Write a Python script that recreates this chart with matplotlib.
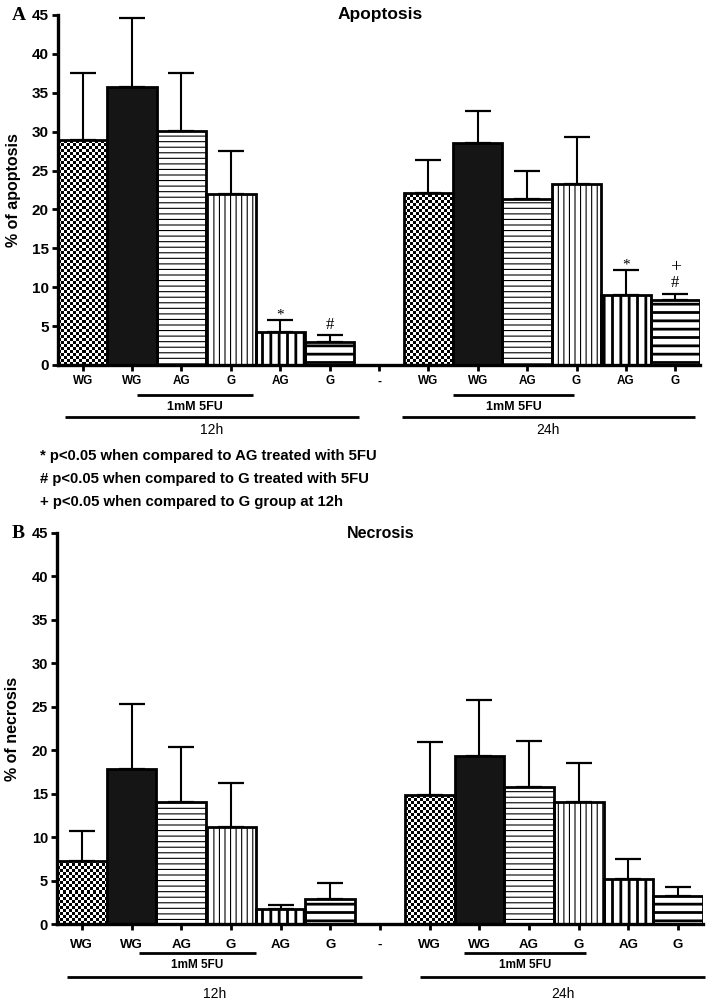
import numpy as np
import matplotlib
matplotlib.use('Agg')
import matplotlib.pyplot as plt
from matplotlib.transforms import blended_transform_factory

plt.rcParams['font.family'] = ['Liberation Sans', 'DejaVu Sans']

# ---------------- data ----------------
categories = ['WG', 'WG', 'AG', 'G', 'AG', 'G', '-', 'WG', 'WG', 'AG', 'G', 'AG', 'G']
patterns = ['checker', 'solid', 'hthin', 'vthin', 'vthick', 'hthick', None,
            'checker', 'solid', 'hthin', 'vthin', 'vthick', 'hthick']

apop_mean = [28.9, 35.8, 30.1, 22.0, 4.2, 3.0, np.nan, 22.1, 28.5, 21.4, 23.3, 9.0, 8.3]
apop_err = [8.7, 8.8, 7.4, 5.5, 1.6, 0.8, np.nan, 4.2, 4.1, 3.5, 6.0, 3.2, 0.8]

necr_mean = [7.3, 17.8, 14.0, 11.2, 1.7, 2.9, np.nan, 14.8, 19.3, 15.8, 14.0, 5.2, 3.2]
necr_err = [3.4, 7.5, 6.4, 5.0, 0.5, 1.8, np.nan, 6.1, 6.5, 5.3, 4.5, 2.3, 1.1]

# significance marks: (category index, symbols stacked bottom->top)
apop_sig = [(4, ['*']), (5, ['#']), (11, ['*']), (12, ['#', '+'])]

footnotes = ['* p<0.05 when compared to AG treated with 5FU',
             '# p<0.05 when compared to G treated with 5FU',
             '+ p<0.05 when compared to G group at 12h']

W, H = 714, 1007
fig = plt.figure(figsize=(W / 100, H / 100), dpi=100)


def px_axes(left, top, right, bottom):
    return fig.add_axes([left / W, 1 - bottom / H, (right - left) / W, (bottom - top) / H])


HATCH = {'hthin': '---', 'vthin': '|||', 'vthick': '||', 'hthick': '--'}
HLW = {'hthin': 0.8, 'vthin': 0.8, 'vthick': 2.0, 'hthick': 2.0}
SERIF = ['Liberation Serif', 'DejaVu Serif']


def draw_panel(ax, mean, err, ytick_fs, xtick_fs, xpad, groups, title, title_fs, ylabel,
               letter, sig=None):
    x = np.arange(len(categories))
    mean = np.asarray(mean, float)
    err = np.asarray(err, float)
    ax.set_xlim(-0.5, len(categories) - 0.5)
    ax.set_ylim(0, 45)
    valid = ~np.isnan(mean)
    xv, mv, ev = x[valid], mean[valid], err[valid]
    pats = [p for p, v in zip(patterns, valid) if v]

    ax.errorbar(xv, mv, yerr=[np.zeros_like(ev), ev], fmt='none', ecolor='black',
                elinewidth=1.5, capsize=9.5, capthick=1.6, zorder=1)

    bars = ax.bar(xv, mv, width=1.0, color='white', edgecolor='none', linewidth=0, zorder=2)
    for b, p in zip(bars, pats):
        if p == 'solid':
            b.set_facecolor('#151515')
        elif p in HATCH:
            b.set_hatch(HATCH[p])
            b.set_edgecolor('black')
            b.set_linewidth(0)
            if hasattr(b, 'set_hatch_linewidth'):
                b.set_hatch_linewidth(HLW[p])
        elif p == 'checker':
            fig.canvas.draw()
            x0, y0 = b.get_x(), b.get_y()
            x1, y1 = x0 + b.get_width(), y0 + b.get_height()
            (px0, py0), (px1, py1) = ax.transData.transform([(x0, y0), (x1, y1)])
            nx, ny = max(int(round(px1 - px0)), 1), max(int(round(py1 - py0)), 1)
            arr = ((np.arange(nx)[None, :] // 3) + (np.arange(ny)[:, None] // 3)) % 2
            im = ax.imshow(arr, cmap='gray', vmin=0, vmax=1, extent=(x0, x1, y0, y1),
                           origin='lower', aspect='auto', interpolation='nearest', zorder=2.5)
            im.set_clip_path(b)
    ax.bar(xv, mv, width=1.0, fill=False, edgecolor='black', linewidth=2.0, zorder=4)
    ax.set_xlim(-0.5, len(categories) - 0.5)
    ax.set_ylim(0, 45)

    for s in ['top', 'right']:
        ax.spines[s].set_visible(False)
    for s in ['left', 'bottom']:
        ax.spines[s].set_linewidth(2.4)
    ax.set_yticks(np.arange(0, 46, 5))
    ax.tick_params(axis='y', length=4.5, width=2.0, pad=2, labelsize=ytick_fs)
    ax.tick_params(axis='x', length=4.5, width=2.0, pad=xpad, labelsize=xtick_fs)
    ax.set_xticks(x)
    ax.set_xticklabels(categories)
    for t in ax.get_xticklabels() + ax.get_yticklabels():
        t.set_fontweight('bold')

    tr = blended_transform_factory(ax.transData, ax.transAxes)
    for (xa, xb, yline, ytext, label, fs, fw) in groups:
        ax.plot([xa, xb], [yline, yline], color='black', lw=2.0, transform=tr, clip_on=False,
                solid_capstyle='butt')
        ax.text((xa + xb) / 2, ytext, label, transform=tr, ha='center', va='center',
                fontsize=fs, fontweight=fw)

    ax.text(0.5016, 1.0, title, transform=ax.transAxes, ha='center', va='center',
            fontsize=title_fs, fontweight='bold')
    ax.set_ylabel(ylabel, fontsize=11.5, fontweight='bold')
    ax.yaxis.set_label_coords(-0.057, 0.5)
    ax.text(-0.050, 1.0, letter, transform=ax.transAxes, ha='right', va='center',
            fontsize=14, fontweight='bold', family=SERIF)

    if sig:
        for idx, syms in sig:
            top = mean[idx] + err[idx]
            off = 0
            for s in syms:
                base = -1 if s == '*' else 2
                fs = 14 if s == '+' else (12 if s == '#' else 11)
                shift = -2 if s == '+' else 0
                ax.annotate(s, (idx, top), xytext=(0, base + off + shift),
                            textcoords='offset points', ha='center', va='bottom',
                            fontsize=fs, family=SERIF)
                off += 13


# Panel A
axA = px_axes(58, 15, 700, 365)
groupsA = [
    (1.1, 3.45, -0.086, -0.121, '1mM 5FU', 9, 'bold'),
    (7.5, 9.95, -0.086, -0.121, '1mM 5FU', 9, 'bold'),
    (-0.36, 5.6, -0.149, -0.186, '12h', 10, 'normal'),
    (6.46, 12.4, -0.149, -0.186, '24h', 10, 'normal'),
]
draw_panel(axA, apop_mean, apop_err, 11, 8.5, 3, groupsA, 'Apoptosis', 12.5,
           '% of apoptosis', 'A', sig=apop_sig)

# Panel B
axB = px_axes(57, 533, 703, 924)
groupsB = [
    (1.15, 3.5, -0.074, -0.105, '1mM 5FU', 8.5, 'bold'),
    (7.7, 10.15, -0.074, -0.105, '1mM 5FU', 8.5, 'bold'),
    (-0.3, 5.64, -0.1355, -0.179, '12h', 10, 'normal'),
    (6.8, 12.55, -0.1355, -0.179, '24h', 10, 'normal'),
]
draw_panel(axB, necr_mean, necr_err, 10.5, 9.5, 6, groupsB, 'Necrosis', 11.5,
           '% of necrosis', 'B')

for i, t in enumerate(footnotes):
    fig.text(40 / W, 1 - (456 + 23 * i) / H, t, ha='left', va='center', fontsize=10.7,
             fontweight='bold')

fig.savefig('out.png', dpi=100)
